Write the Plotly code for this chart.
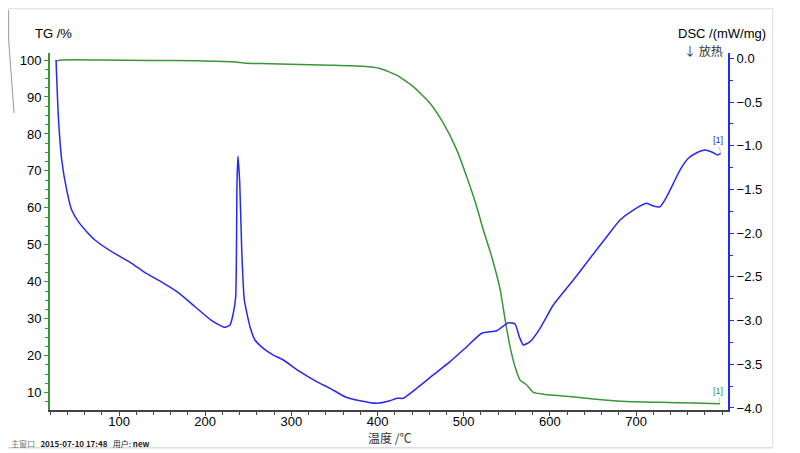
import plotly.graph_objects as go

# TG curve (temperature in degC, mass in %)
tg_temp = [26.9, 33.5, 80, 136, 190, 232.3, 248.2, 275.2, 344.9, 383.2, 402.9, 422.3,
           441.5, 460.9, 476.4, 491.9, 503.5, 515.1, 522.8, 532.5, 542.2, 547.9, 553.8,
           559.6, 565.4, 573.1, 580.8, 592.4, 611.8, 650.4, 689.2, 727.8, 766.5, 797.5]
tg_mass = [99.7, 100.0, 100.0, 99.9, 99.8, 99.5, 99.1, 99.0, 98.6, 98.3, 97.7, 95.9,
           92.8, 88.3, 82.9, 75.7, 68.4, 60.3, 54.0, 46.8, 38.0, 30.0, 22.4,
           17.0, 13.4, 12.1, 10.1, 9.6, 9.2, 8.3, 7.6, 7.4, 7.2, 7.0]

# DSC curve (mW/mg)
dsc_temp = [26.9, 29.6, 33.5, 39.3, 45.1, 52.8, 62.5, 72.1, 91.5, 114.7, 130.2, 149.6,
            168.8, 188.2, 207.6, 223.0, 228.8, 232.6, 235.4, 236.9, 238.0, 240.1, 242.4,
            245.4, 252.0, 257.8, 267.5, 279.1, 290.7, 310.0, 329.4, 344.9, 362.3, 379.7,
            399.1, 414.5, 422.3, 429.9, 445.5, 464.7, 484.1, 503.5, 520.9, 538.3, 551.8,
            559.6, 564.5, 569.2, 577.0, 588.6, 604.0, 627.2, 646.6, 666.0, 681.4, 696.8,
            712.4, 720.1, 727.8, 735.6, 743.3, 751.0, 760.7, 770.4, 780.1, 789.7, 794.3, 798.3]
dsc_val = [-0.018, -0.667, -1.162, -1.506, -1.735, -1.868, -1.983, -2.078, -2.212, -2.344,
           -2.452, -2.560, -2.680, -2.841, -3.001, -3.077, -3.050, -2.916, -2.727, -1.426,
           -1.117, -1.426, -2.192, -2.764, -3.070, -3.222, -3.317, -3.394, -3.451, -3.585,
           -3.699, -3.775, -3.871, -3.917, -3.946, -3.917, -3.889, -3.889, -3.775, -3.622,
           -3.470, -3.299, -3.145, -3.116, -3.024, -3.039, -3.184, -3.279, -3.241, -3.088,
           -2.822, -2.535, -2.287, -2.040, -1.849, -1.735, -1.658, -1.689, -1.697, -1.582,
           -1.429, -1.277, -1.143, -1.079, -1.048, -1.079, -1.105, -1.086]

x_ticks = [100, 200, 300, 400, 500, 600, 700]
tg_ticks = [10, 20, 30, 40, 50, 60, 70, 80, 90, 100]
dsc_ticks = [0.0, -0.5, -1.0, -1.5, -2.0, -2.5, -3.0, -3.5, -4.0]

green = "rgb(56,150,56)"
blue = "rgb(40,40,245)"
font = "Liberation Sans, Arial, sans-serif"

fig = go.Figure()
fig.add_trace(go.Scatter(x=tg_temp, y=tg_mass, mode="lines",
                         line=dict(color=green, width=1.5, shape="spline", smoothing=0.5),
                         showlegend=False))
fig.add_trace(go.Scatter(x=dsc_temp, y=dsc_val, mode="lines", yaxis="y2",
                         line=dict(color=blue, width=1.5, shape="spline", smoothing=0.5),
                         showlegend=False))

# the page body adds an 8px margin, so the figure is 8px smaller each way
fig.update_layout(
    width=792, height=445,
    margin=dict(l=42, r=72, t=45, b=43),
    paper_bgcolor="white", plot_bgcolor="white",
    font=dict(family=font, size=13, color="black"),
    xaxis=dict(range=[19.9, 806.7], tickvals=x_ticks, ticks="outside", ticklen=4,
               ticklabelstandoff=-5,
               showline=True, linecolor="#444", linewidth=1.5, showgrid=False,
               zeroline=False, tickcolor="#444",
               minor=dict(tickmode="linear", tick0=0, dtick=20, ticks="outside",
                          ticklen=3, tickcolor="#444")),
    yaxis=dict(range=[5.32, 101.9], tickvals=tg_ticks, ticks="outside", ticklen=4,
               showline=True, linecolor=green, linewidth=2, tickcolor=green,
               showgrid=False, zeroline=False,
               minor=dict(tickmode="linear", tick0=0, dtick=2.5, ticks="outside",
                          ticklen=3, tickcolor=green)),
    yaxis2=dict(range=[-4.023, 0.062], tickvals=dsc_ticks, tickformat=".1f",
                overlaying="y", side="right", ticks="outside", ticklen=4,
                showline=True, linecolor=blue, linewidth=2, tickcolor=blue,
                showgrid=False, zeroline=False,
                minor=dict(tickmode="linear", tick0=0, dtick=0.25, ticks="outside",
                           ticklen=3, tickcolor=blue)),
    annotations=[
        dict(text="TG /%", xref="paper", yref="paper", x=-0.025, y=1.056,
             xanchor="left", yanchor="middle", showarrow=False, font=dict(size=13)),
        dict(text="DSC /(mW/mg)", xref="paper", yref="paper", x=1.059, y=1.056,
             xanchor="right", yanchor="middle", showarrow=False, font=dict(size=13)),
        dict(text="↓ 放热", xref="paper", yref="paper", x=0.932, y=1.008,
             xanchor="left", yanchor="middle", showarrow=False,
             font=dict(size=12, family="Noto Sans CJK SC", color="#333")),
        dict(text="温度 /℃", xref="paper", yref="paper", x=0.5, y=-0.078,
             xanchor="center", yanchor="middle", showarrow=False,
             font=dict(size=12, family="Noto Sans CJK SC", color="#333")),
        dict(text="<span style='color:#777'>主窗口</span>   <b>2015-07-10 17:48</b>   用户: <b>new</b>",
             xref="paper", yref="paper", x=-0.06, y=-0.094, xanchor="left",
             yanchor="middle", showarrow=False,
             font=dict(size=8, family="Noto Sans CJK SC", color="#222")),
        dict(text="[1]", x=tg_temp[-1], y=tg_mass[-1], xref="x", yref="y",
             showarrow=True, arrowhead=0, arrowwidth=0.6, arrowcolor="#aaa",
             ax=-2, ay=-13, font=dict(size=9, color=green)),
        dict(text="[1]", x=dsc_temp[-1], y=dsc_val[-1], xref="x", yref="y2",
             showarrow=True, arrowhead=0, arrowwidth=0.6, arrowcolor="#aaa",
             ax=-3, ay=-13, font=dict(size=9, color=blue)),
    ],
    shapes=[
        # frame of the original window
        dict(type="line", xref="paper", yref="paper", x0=-0.062, x1=1.066,
             y0=1.124, y1=1.124, line=dict(color="#ddd", width=1)),
        dict(type="line", xref="paper", yref="paper", x0=1.066, x1=1.066,
             y0=1.124, y1=-0.106, line=dict(color="#ddd", width=1)),
        dict(type="line", xref="paper", yref="paper", x0=-0.062, x1=1.066,
             y0=-0.106, y1=-0.106, line=dict(color="#ccc", width=1)),
        dict(type="path", xref="paper", yref="paper",
             path="M -0.061 1.12 L -0.061 1.036 L -0.053 0.832",
             line=dict(color="#999", width=1)),
    ],
)

fig.write_html("out.html")
